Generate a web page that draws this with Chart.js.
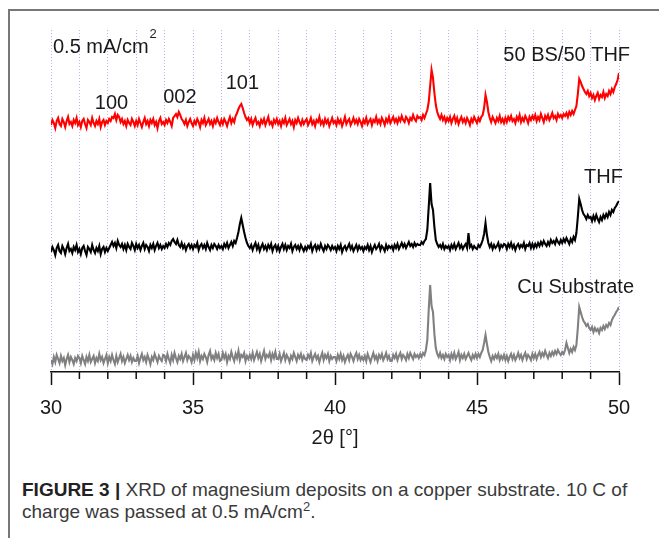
<!DOCTYPE html>
<html>
<head>
<meta charset="utf-8">
<script src="https://cdn.jsdelivr.net/npm/chart.js@4.4.1/dist/chart.umd.min.js"></script>
<style>
  html, body { margin: 0; padding: 0; background: #fff; }
  #page { position: relative; width: 659px; height: 538px; overflow: hidden; background: #fff; }
  #frame { position: absolute; left: 8px; top: 9px; right: -4px; bottom: -4px;
           border-top: 2px solid #777; border-left: 2px solid #777; }
  #chart { position: absolute; left: 0; top: 0; }
  #caption { position: absolute; left: 22px; top: 479px; width: 636px;
             font-family: "Liberation Sans", Arial, sans-serif;
             font-size: 19px; line-height: 22px; color: #3a3a3a; white-space: nowrap; }
  #caption b { color: #222; }
  #caption sup { font-size: 13px; line-height: 0; vertical-align: 7px; }
</style>
</head>
<body>
<div id="page">
  <div id="frame"></div>
  <canvas id="chart" width="659" height="452"></canvas>
  <div id="caption"><b>FIGURE 3 |</b> XRD of magnesium deposits on a copper substrate. 10 C of<br>charge was passed at 0.5 mA/cm<sup>2</sup>.</div>
</div>
<script>
// 2θ sampling (degrees), one row per degree
var theta = [
  30.00, 30.05, 30.10, 30.15, 30.20, 30.25, 30.30, 30.35, 30.40, 30.45, 30.50, 30.55, 30.60, 30.65, 30.70, 30.75, 30.80, 30.85, 30.90, 30.95,
  31.00, 31.05, 31.10, 31.15, 31.20, 31.25, 31.30, 31.35, 31.40, 31.45, 31.50, 31.55, 31.60, 31.65, 31.70, 31.75, 31.80, 31.85, 31.90, 31.95,
  32.00, 32.05, 32.10, 32.15, 32.20, 32.25, 32.30, 32.35, 32.40, 32.45, 32.50, 32.55, 32.60, 32.65, 32.70, 32.75, 32.80, 32.85, 32.90, 32.95,
  33.00, 33.05, 33.10, 33.15, 33.20, 33.25, 33.30, 33.35, 33.40, 33.45, 33.50, 33.55, 33.60, 33.65, 33.70, 33.75, 33.80, 33.85, 33.90, 33.95,
  34.00, 34.05, 34.10, 34.15, 34.20, 34.25, 34.30, 34.35, 34.40, 34.45, 34.50, 34.55, 34.60, 34.65, 34.70, 34.75, 34.80, 34.85, 34.90, 34.95,
  35.00, 35.05, 35.10, 35.15, 35.20, 35.25, 35.30, 35.35, 35.40, 35.45, 35.50, 35.55, 35.60, 35.65, 35.70, 35.75, 35.80, 35.85, 35.90, 35.95,
  36.00, 36.05, 36.10, 36.15, 36.20, 36.25, 36.30, 36.35, 36.40, 36.45, 36.50, 36.55, 36.60, 36.65, 36.70, 36.75, 36.80, 36.85, 36.90, 36.95,
  37.00, 37.05, 37.10, 37.15, 37.20, 37.25, 37.30, 37.35, 37.40, 37.45, 37.50, 37.55, 37.60, 37.65, 37.70, 37.75, 37.80, 37.85, 37.90, 37.95,
  38.00, 38.05, 38.10, 38.15, 38.20, 38.25, 38.30, 38.35, 38.40, 38.45, 38.50, 38.55, 38.60, 38.65, 38.70, 38.75, 38.80, 38.85, 38.90, 38.95,
  39.00, 39.05, 39.10, 39.15, 39.20, 39.25, 39.30, 39.35, 39.40, 39.45, 39.50, 39.55, 39.60, 39.65, 39.70, 39.75, 39.80, 39.85, 39.90, 39.95,
  40.00, 40.05, 40.10, 40.15, 40.20, 40.25, 40.30, 40.35, 40.40, 40.45, 40.50, 40.55, 40.60, 40.65, 40.70, 40.75, 40.80, 40.85, 40.90, 40.95,
  41.00, 41.05, 41.10, 41.15, 41.20, 41.25, 41.30, 41.35, 41.40, 41.45, 41.50, 41.55, 41.60, 41.65, 41.70, 41.75, 41.80, 41.85, 41.90, 41.95,
  42.00, 42.05, 42.10, 42.15, 42.20, 42.25, 42.30, 42.35, 42.40, 42.45, 42.50, 42.55, 42.60, 42.65, 42.70, 42.75, 42.80, 42.85, 42.90, 42.95,
  43.00, 43.05, 43.10, 43.15, 43.20, 43.25, 43.30, 43.35, 43.40, 43.45, 43.50, 43.55, 43.60, 43.65, 43.70, 43.75, 43.80, 43.85, 43.90, 43.95,
  44.00, 44.05, 44.10, 44.15, 44.20, 44.25, 44.30, 44.35, 44.40, 44.45, 44.50, 44.55, 44.60, 44.65, 44.70, 44.75, 44.80, 44.85, 44.90, 44.95,
  45.00, 45.05, 45.10, 45.15, 45.20, 45.25, 45.30, 45.35, 45.40, 45.45, 45.50, 45.55, 45.60, 45.65, 45.70, 45.75, 45.80, 45.85, 45.90, 45.95,
  46.00, 46.05, 46.10, 46.15, 46.20, 46.25, 46.30, 46.35, 46.40, 46.45, 46.50, 46.55, 46.60, 46.65, 46.70, 46.75, 46.80, 46.85, 46.90, 46.95,
  47.00, 47.05, 47.10, 47.15, 47.20, 47.25, 47.30, 47.35, 47.40, 47.45, 47.50, 47.55, 47.60, 47.65, 47.70, 47.75, 47.80, 47.85, 47.90, 47.95,
  48.00, 48.05, 48.10, 48.15, 48.20, 48.25, 48.30, 48.35, 48.40, 48.45, 48.50, 48.55, 48.60, 48.65, 48.70, 48.75, 48.80, 48.85, 48.90, 48.95,
  49.00, 49.05, 49.10, 49.15, 49.20, 49.25, 49.30, 49.35, 49.40, 49.45, 49.50, 49.55, 49.60, 49.65, 49.70, 49.75, 49.80, 49.85, 49.90, 49.95,
  50.00
];

// intensity (a.u., traces offset as in the figure)
var bsThf = [
  247, 252, 249, 244, 251, 254, 248, 246, 253, 250, 245, 251, 255, 248, 250, 246, 252, 249, 254, 247,
  250, 245, 251, 253, 248, 244, 252, 250, 247, 254, 249, 246, 251, 248, 253, 245, 250, 252, 247, 251,
  249, 253, 251, 255, 254, 258, 252, 257, 255, 250, 253, 248, 251, 246, 252, 249, 247, 253, 250, 246,
  251, 247, 253, 249, 245, 250, 254, 248, 251, 246, 252, 249, 253, 247, 250, 244, 251, 254, 248, 250,
  247, 252, 249, 253, 250, 246, 254, 256, 258, 255, 260, 257, 253, 251, 248, 252, 246, 250, 253, 249,
  246, 251, 248, 253, 250, 245, 252, 249, 254, 247, 250, 253, 248, 251, 246, 252, 249, 254, 250, 247,
  252, 248, 253, 250, 246, 251, 255, 249, 253, 250, 256, 259, 263, 266, 268, 264, 259, 255, 252, 254,
  249, 253, 247, 251, 254, 248, 250, 246, 252, 249, 253, 247, 251, 255, 248, 250, 246, 252, 249, 253,
  248, 251, 246, 252, 249, 254, 247, 250, 253, 248, 251, 245, 252, 249, 254, 250, 247, 252, 248, 251,
  253, 247, 250, 254, 248, 251, 246, 252, 250, 255, 248, 251, 247, 253, 249, 252, 246, 250, 254, 249,
  251, 247, 253, 249, 252, 246, 250, 255, 248, 251, 253, 247, 250, 254, 249, 252, 248, 253, 250, 246,
  252, 249, 254, 248, 251, 253, 247, 252, 250, 255, 249, 252, 248, 254, 251, 247, 253, 250, 255, 249,
  252, 255, 250, 253, 249, 254, 251, 256, 252, 250, 255, 253, 249, 254, 252, 257, 253, 251, 256, 254,
  255, 252, 257, 254, 258, 262, 270, 286, 302, 294, 279, 267, 260, 256, 253, 257, 252, 255, 250, 254,
  251, 255, 249, 253, 256, 250, 254, 248, 252, 255, 250, 253, 249, 254, 251, 247, 253, 250, 255, 252,
  249, 254, 251, 255, 257, 264, 277, 270, 260, 254, 250, 255, 252, 249, 254, 251, 256, 250, 253, 249,
  254, 250, 255, 252, 256, 251, 253, 249, 255, 252, 257, 250, 254, 251, 256, 253, 249, 255, 252, 256,
  253, 257, 251, 255, 252, 258, 254, 250, 256, 253, 257, 252, 255, 259, 254, 256, 252, 258, 255, 257,
  254, 258, 256, 259, 255, 260, 257, 261, 258, 262, 266, 278, 293, 290, 286, 283, 280, 278, 281, 276,
  279, 274, 277, 272, 276, 279, 273, 277, 275, 280, 274, 278, 276, 281, 278, 283, 280, 285, 288, 292,
  299
];

var thf = [
  120, 125, 122, 117, 124, 127, 121, 119, 126, 123, 118, 124, 128, 121, 123, 119, 125, 122, 127, 120,
  123, 118, 124, 126, 121, 117, 125, 123, 120, 127, 122, 119, 124, 121, 126, 118, 123, 125, 120, 124,
  121, 124, 127, 130, 126, 129, 124, 131, 127, 125, 128, 123, 127, 122, 128, 125, 123, 129, 126, 122,
  128, 124, 127, 122, 126, 129, 123, 127, 125, 121, 127, 124, 128, 122, 126, 129, 124, 127, 123, 126,
  124, 128, 125, 129, 127, 131, 133, 130, 128, 132, 127, 125, 129, 124, 127, 122, 126, 128, 124, 127,
  123, 127, 125, 129, 122, 126, 128, 124, 127, 123, 129, 125, 122, 127, 124, 128, 126, 123, 127, 124,
  126, 123, 128, 125, 129, 124, 127, 130, 126, 131, 129, 134, 140, 148, 154, 147, 140, 134, 129, 126,
  124, 127, 122, 126, 129, 123, 127, 121, 125, 128, 123, 126, 122, 127, 124, 128, 121, 125, 127, 122,
  126, 121, 125, 128, 123, 127, 122, 126, 124, 128, 121, 125, 127, 123, 126, 122, 127, 124, 121, 125,
  122, 126, 124, 128, 121, 125, 127, 122, 126, 123, 128, 124, 121, 126, 123, 127, 125, 122, 126, 123,
  125, 121, 126, 123, 127, 120, 124, 126, 122, 125, 128, 123, 126, 121, 124, 127, 122, 126, 123, 125,
  121, 125, 123, 127, 122, 126, 120, 124, 127, 123, 125, 128, 122, 126, 124, 121, 127, 123, 126, 124,
  126, 122, 127, 124, 128, 123, 126, 129, 125, 128, 124, 127, 130, 126, 128, 125, 129, 126, 128, 127,
  127, 130, 128, 131, 133, 142, 165, 189, 168, 162, 145, 132, 128, 125, 127, 124, 128, 123, 126, 124,
  126, 122, 127, 124, 128, 123, 126, 129, 124, 127, 123, 126, 128, 124, 139, 125, 127, 123, 126, 124,
  123, 127, 125, 128, 132, 138, 149, 137, 129, 125, 128, 123, 127, 124, 126, 129, 123, 127, 125, 128,
  127, 123, 128, 125, 129, 124, 127, 122, 126, 128, 124, 127, 125, 129, 123, 127, 126, 129, 124, 128,
  124, 128, 125, 129, 126, 130, 127, 131, 128, 126, 130, 127, 132, 129, 131, 128, 133, 130, 128, 132,
  129, 133, 130, 134, 131, 128, 133, 130, 135, 132, 139, 155, 173, 168, 162, 158, 156, 153, 157, 154,
  155, 151, 156, 152, 157, 153, 150, 155, 152, 157, 154, 158, 155, 160, 157, 162, 160, 164, 166, 169,
  171
];

var cuSubstrate = [
  12, 8, 15, 10, 17, 13, 9, 16, 11, 14, 7, 13, 17, 10, 15, 12, 8, 14, 11, 16,
  14, 9, 16, 12, 8, 15, 11, 17, 10, 13, 16, 9, 14, 11, 18, 12, 15, 9, 13, 17,
  9, 15, 11, 17, 12, 8, 16, 10, 14, 18, 11, 15, 9, 13, 17, 12, 16, 10, 14, 11,
  11, 16, 9, 14, 18, 12, 15, 10, 17, 13, 8, 15, 12, 18, 14, 10, 16, 13, 11, 17,
  16, 11, 18, 13, 9, 17, 12, 19, 14, 10, 16, 13, 18, 11, 15, 19, 12, 16, 14, 10,
  17, 12, 19, 14, 20, 11, 16, 13, 18, 15, 10, 17, 21, 13, 16, 12, 19, 14, 18, 11,
  12, 19, 14, 18, 10, 16, 13, 20, 15, 11, 18, 14, 21, 12, 17, 15, 19, 11, 16, 13,
  17, 13, 19, 12, 16, 20, 14, 18, 11, 16, 21, 13, 17, 15, 19, 12, 18, 14, 20, 13,
  13, 18, 11, 15, 19, 12, 17, 14, 10, 16, 13, 19, 15, 11, 17, 14, 18, 12, 16, 13,
  12, 17, 14, 19, 11, 15, 18, 13, 16, 10, 15, 19, 12, 17, 14, 18, 11, 16, 13, 15,
  15, 11, 17, 13, 18, 12, 16, 10, 14, 17, 12, 18, 15, 11, 16, 19, 13, 17, 12, 15,
  12, 16, 11, 18, 14, 10, 15, 19, 13, 16, 11, 17, 14, 18, 12, 15, 19, 13, 16, 11,
  11, 17, 14, 18, 12, 16, 19, 13, 17, 15, 12, 18, 14, 19, 16, 13, 18, 15, 17, 14,
  18, 15, 19, 17, 22, 32, 62, 87, 66, 60, 38, 24, 18, 15, 19, 14, 17, 13, 18, 15,
  17, 12, 18, 14, 19, 13, 16, 20, 12, 17, 14, 18, 13, 16, 19, 15, 12, 17, 14, 18,
  14, 18, 15, 19, 22, 29, 37, 28, 20, 15, 11, 16, 13, 17, 14, 18, 12, 16, 13, 17,
  12, 16, 11, 15, 18, 13, 17, 12, 15, 19, 14, 17, 12, 16, 19, 13, 17, 15, 12, 18,
  14, 18, 13, 17, 20, 15, 19, 16, 21, 17, 14, 19, 16, 20, 17, 21, 18, 22, 19, 17,
  20, 18, 22, 29, 24, 19, 23, 20, 25, 22, 27, 44, 65, 60, 55, 51, 49, 46, 48, 44,
  42, 45, 40, 44, 41, 43, 39, 44, 42, 46, 43, 47, 45, 49, 47, 52, 55, 57, 60, 62,
  65
];

// text inside the plot, anchored in data units
var noteText  = ['100', '002', '101', '50 BS/50 THF', 'THF', 'Cu Substrate', '0.5 mA/cm'];
var noteTheta = [32.13, 34.54, 36.74, 50.39, 50.14, 50.53, 30.07];
var noteLevel = [263, 269, 283, 311, 189, 79, 319];
var noteAlign = ['center', 'center', 'center', 'right', 'right', 'right', 'left'];

var FONT = '"Liberation Sans", Arial, sans-serif';

function toPoints(ys) {
    return theta.map(function(t, i) { return { x: t, y: ys[i] }; });
}

var notesPlugin = {
    id: 'notes',
    afterDraw: function(chart) {
        var ctx = chart.ctx;
        var xs = chart.scales.x, ys = chart.scales.y;
        ctx.save();
        ctx.fillStyle = '#1a1a1a';
        ctx.font = '20px ' + FONT;
        ctx.textBaseline = 'alphabetic';
        var lastX = 0, lastY = 0, lastW = 0;
        noteText.forEach(function(t, i) {
            ctx.textAlign = noteAlign[i];
            var px = xs.getPixelForValue(noteTheta[i]);
            var py = ys.getPixelForValue(noteLevel[i]);
            ctx.fillText(t, px, py);
            lastX = px; lastY = py; lastW = ctx.measureText(t).width;
        });
        // superscript 2 after the current density note
        ctx.font = '13px ' + FONT;
        ctx.textAlign = 'left';
        ctx.fillText('2', lastX + lastW + 1, lastY - 15);

        // short minor ticks between the labelled ones
        var y0 = chart.chartArea.bottom;
        ctx.strokeStyle = '#111';
        ctx.lineWidth = 1.5;
        xs.ticks.forEach(function(tk) {
            if (Math.round(tk.value) % 5 === 0) return;
            var tx = xs.getPixelForValue(tk.value);
            ctx.beginPath();
            ctx.moveTo(tx, y0);
            ctx.lineTo(tx, y0 + 7);
            ctx.stroke();
        });
        ctx.restore();
    }
};

new Chart(document.getElementById('chart').getContext('2d'), {
    type: 'line',
    data: {
        datasets: [
            { label: '50 BS/50 THF', data: toPoints(bsThf), borderColor: '#ff0000', borderWidth: 2.1, pointRadius: 0, tension: 0 },
            { label: 'THF', data: toPoints(thf), borderColor: '#000000', borderWidth: 2.1, pointRadius: 0, tension: 0 },
            { label: 'Cu Substrate', data: toPoints(cuSubstrate), borderColor: '#808080', borderWidth: 2.1, pointRadius: 0, tension: 0 }
        ]
    },
    options: {
        responsive: false,
        animation: false,
        layout: { padding: { left: 51, right: 40, top: 30, bottom: 0 } },
        plugins: { legend: { display: false }, tooltip: { enabled: false } },
        scales: {
            x: {
                type: 'linear',
                min: 30,
                max: 50,
                afterFit: function(scale) { scale.height = 80; },
                ticks: {
                    stepSize: 1,
                    autoSkip: false,
                    maxRotation: 0,
                    padding: 11,
                    color: '#1a1a1a',
                    font: { family: FONT, size: 20 },
                    callback: function(v) { return Math.round(v) % 5 === 0 ? String(v) : ''; }
                },
                grid: {
                    color: 'rgba(120,120,240,0.55)',
                    lineWidth: 1,
                    tickLength: 13,
                    tickWidth: 1.5,
                    tickBorderDash: [],
                    tickColor: function(c) {
                        return c.tick && Math.round(c.tick.value) % 5 === 0 ? '#111' : 'rgba(0,0,0,0)';
                    }
                },
                border: { display: true, color: '#111', width: 1.5, dash: [1, 2] },
                title: {
                    display: true,
                    text: '2θ [°]',
                    color: '#1a1a1a',
                    font: { family: FONT, size: 20 },
                    padding: { top: 4, bottom: 2 }
                }
            },
            y: { display: false, min: 0, max: 342 }
        }
    },
    plugins: [notesPlugin]
});
</script>
</body>
</html>
